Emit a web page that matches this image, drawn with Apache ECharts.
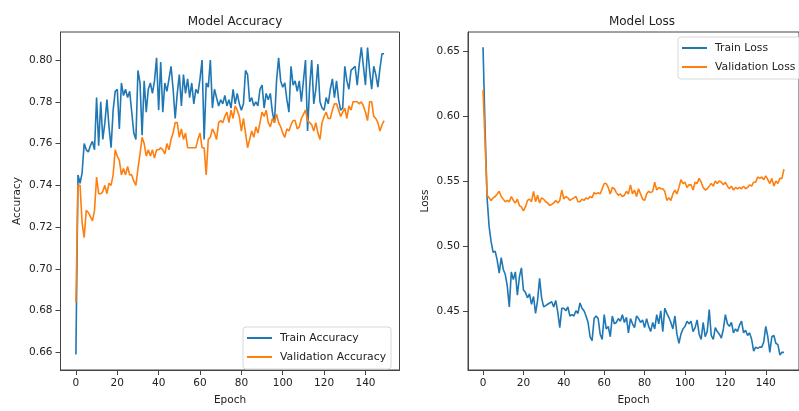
<!DOCTYPE html>
<html>
<head>
<meta charset="utf-8">
<script src="https://cdn.jsdelivr.net/npm/echarts@6/dist/echarts.min.js"></script>
<style>html,body{margin:0;padding:0;background:#fff;}#c{width:799px;height:411px;}</style>
</head>
<body>
<div id="c"></div>
<script>
var trainAcc = [0.659,0.745,0.741,0.746,0.760,0.757,0.756,0.759,0.761,0.757,
0.782,0.759,0.780,0.762,0.770,0.781,0.768,0.758,0.776,0.785,
0.786,0.767,0.789,0.783,0.786,0.782,0.785,0.775,0.765,0.762,
0.795,0.789,0.764,0.790,0.775,0.786,0.789,0.784,0.790,0.801,
0.776,0.799,0.775,0.789,0.785,0.791,0.797,0.786,0.772,0.784,
0.793,0.778,0.793,0.784,0.791,0.782,0.789,0.779,0.786,0.784,
0.791,0.800,0.762,0.789,0.787,0.800,0.777,0.786,0.782,0.778,
0.781,0.779,0.783,0.778,0.781,0.777,0.786,0.779,0.784,0.779,
0.776,0.779,0.795,0.793,0.780,0.782,0.778,0.780,0.778,0.786,
0.788,0.777,0.784,0.781,0.784,0.775,0.770,0.790,0.801,0.790,
0.787,0.789,0.781,0.775,0.797,0.788,0.790,0.785,0.790,0.780,
0.790,0.800,0.766,0.787,0.800,0.779,0.786,0.798,0.780,0.777,
0.776,0.782,0.779,0.786,0.791,0.782,0.790,0.781,0.776,0.777,
0.797,0.790,0.786,0.795,0.796,0.797,0.788,0.798,0.806,0.797,
0.788,0.806,0.795,0.786,0.797,0.793,0.787,0.796,0.803,0.803];
var valAcc = [0.684,0.740,0.740,0.722,0.715,0.728,0.727,0.725,0.723,0.728,
0.744,0.736,0.736,0.737,0.740,0.736,0.741,0.740,0.745,0.757,
0.754,0.752,0.745,0.748,0.745,0.749,0.745,0.745,0.742,0.740,
0.748,0.755,0.763,0.760,0.754,0.757,0.754,0.757,0.753,0.757,
0.757,0.758,0.757,0.755,0.760,0.757,0.762,0.765,0.770,0.770,
0.763,0.767,0.762,0.765,0.758,0.758,0.758,0.758,0.758,0.762,
0.765,0.758,0.758,0.745,0.762,0.763,0.767,0.765,0.762,0.770,
0.771,0.770,0.773,0.775,0.770,0.776,0.772,0.778,0.776,0.773,
0.766,0.772,0.765,0.758,0.762,0.766,0.763,0.768,0.765,0.770,
0.775,0.773,0.776,0.770,0.768,0.772,0.770,0.774,0.770,0.768,
0.765,0.763,0.767,0.766,0.769,0.771,0.771,0.767,0.768,0.772,
0.774,0.776,0.771,0.770,0.769,0.766,0.770,0.765,0.762,0.770,
0.773,0.775,0.772,0.772,0.776,0.779,0.779,0.776,0.773,0.775,
0.777,0.772,0.778,0.776,0.780,0.780,0.780,0.779,0.780,0.778,
0.775,0.771,0.780,0.780,0.773,0.772,0.770,0.766,0.769,0.771];
var trainLoss = [0.653,0.590,0.537,0.515,0.503,0.495,0.496,0.489,0.479,0.491,
0.482,0.478,0.469,0.453,0.480,0.474,0.480,0.462,0.476,0.483,
0.466,0.464,0.460,0.463,0.455,0.461,0.448,0.458,0.475,0.460,
0.453,0.454,0.455,0.456,0.457,0.453,0.458,0.449,0.437,0.452,
0.452,0.450,0.453,0.446,0.447,0.446,0.450,0.448,0.456,0.452,
0.450,0.446,0.441,0.430,0.427,0.444,0.446,0.444,0.432,0.428,
0.447,0.436,0.438,0.430,0.446,0.440,0.441,0.444,0.442,0.447,
0.441,0.445,0.433,0.444,0.440,0.437,0.446,0.444,0.441,0.443,
0.437,0.444,0.438,0.434,0.441,0.436,0.447,0.440,0.450,0.434,
0.452,0.448,0.445,0.441,0.436,0.446,0.432,0.425,0.432,0.436,
0.438,0.442,0.440,0.442,0.434,0.437,0.443,0.432,0.428,0.441,
0.430,0.434,0.451,0.431,0.428,0.437,0.434,0.432,0.429,0.436,
0.447,0.440,0.438,0.441,0.433,0.436,0.434,0.439,0.442,0.433,
0.435,0.431,0.433,0.428,0.419,0.422,0.421,0.422,0.422,0.426,
0.438,0.430,0.418,0.430,0.431,0.425,0.424,0.416,0.418,0.418];
var valLoss = [0.620,0.580,0.539,0.537,0.535,0.537,0.538,0.540,0.542,0.538,
0.536,0.534,0.535,0.534,0.538,0.535,0.533,0.536,0.531,0.530,
0.527,0.530,0.535,0.536,0.534,0.542,0.534,0.539,0.533,0.537,
0.536,0.534,0.533,0.531,0.532,0.533,0.535,0.533,0.535,0.543,
0.536,0.538,0.537,0.535,0.536,0.537,0.538,0.534,0.534,0.536,
0.535,0.537,0.536,0.538,0.537,0.541,0.540,0.541,0.540,0.544,
0.548,0.548,0.545,0.540,0.545,0.544,0.541,0.539,0.540,0.538,
0.539,0.542,0.540,0.547,0.540,0.543,0.538,0.544,0.540,0.536,
0.535,0.540,0.542,0.541,0.542,0.549,0.543,0.545,0.544,0.544,
0.542,0.535,0.537,0.535,0.540,0.543,0.540,0.545,0.551,0.548,
0.549,0.545,0.547,0.547,0.543,0.549,0.548,0.552,0.549,0.545,
0.543,0.544,0.546,0.548,0.546,0.550,0.548,0.550,0.549,0.547,
0.549,0.546,0.544,0.546,0.543,0.545,0.544,0.545,0.544,0.546,
0.544,0.545,0.547,0.546,0.549,0.549,0.553,0.552,0.553,0.551,
0.554,0.551,0.548,0.552,0.546,0.550,0.548,0.552,0.552,0.559];
var xTicks = [0,20,40,60,80,100,120,140];
var accTicks = [0.66,0.68,0.70,0.72,0.74,0.76,0.78,0.80];
var lossTicks = [0.45,0.50,0.55,0.60,0.65];

function pairs(arr){ return arr.map(function(v,i){ return [i, v]; }); }

var FONT = 'DejaVu Sans';
var BLUE = '#1f77b4', ORANGE = '#ff7f0e';
var chart = echarts.init(document.getElementById('c'), null, {renderer:'canvas'});

function xAx(idx){
  return {
    type:'value', gridIndex: idx, min:-7.45, max:156.45,
    name:'Epoch', nameLocation:'middle', nameGap:25,
    nameTextStyle:{fontFamily:FONT, fontSize:10.5, color:'#222'},
    axisLine:{show:true, onZero:false, lineStyle:{color:'#444', width:1}},
    axisTick:{show:true, inside:false, length:5, lineStyle:{color:'#444'}, customValues:xTicks},
    axisLabel:{fontFamily:FONT, fontSize:10.5, color:'#222', margin:8, customValues:xTicks},
    splitLine:{show:false}
  };
}
function yAx(idx, mn, mx, ticks, name, gap){
  return {
    type:'value', gridIndex: idx, min:mn, max:mx,
    name:name, nameLocation:'middle', nameGap:gap, nameRotate:90,
    nameTextStyle:{fontFamily:FONT, fontSize:10.5, color:'#222'},
    axisLine:{show:true, onZero:false, lineStyle:{color:'#444', width:1}},
    axisTick:{show:true, inside:false, length:5, lineStyle:{color:'#444'}, customValues:ticks},
    axisLabel:{fontFamily:FONT, fontSize:10.5, color:'#222', margin:8, customValues:ticks,
      formatter:function(v){ return v.toFixed(2); }},
    splitLine:{show:false}
  };
}
function legendBox(left, top, names){
  return {
    orient:'vertical', left:left, top:top, data:names,
    icon:'rect', itemWidth:25, itemHeight:2, itemGap:5,
    padding:[4,5,5,4],
    backgroundColor:'rgba(255,255,255,0.8)', borderColor:'#d8d8d8', borderWidth:1, borderRadius:3,
    textStyle:{fontFamily:FONT, fontSize:10.8, color:'#222', lineHeight:14, padding:[0,0,0,3]},
    selectedMode:false
  };
}

chart.setOption({
  animation:false,
  backgroundColor:'#fff',
  title:[
    {text:'Model Accuracy', left:230, top:11, textAlign:'center',
     textStyle:{fontFamily:FONT, fontSize:12, fontWeight:'normal', color:'#222'}},
    {text:'Model Loss', left:637, top:11, textAlign:'center',
     textStyle:{fontFamily:FONT, fontSize:12, fontWeight:'normal', color:'#222'}}
  ],
  grid:[
    {left:60.5, top:32, width:339, height:341.5, show:true, borderColor:'#444', borderWidth:1, backgroundColor:'transparent'},
    {left:468, top:32, width:339, height:341.5, show:true, borderColor:'#444', borderWidth:1, backgroundColor:'transparent'}
  ],
  xAxis:[xAx(0), xAx(1)],
  yAxis:[
    yAx(0, 0.6516, 0.8134, accTicks, 'Accuracy', 38),
    yAx(1, 0.4044, 0.6647, lossTicks, 'Loss', 37)
  ],
  legend:[
    legendBox(243, 327, ['Train Accuracy','Validation Accuracy']),
    legendBox(678, 37, ['Train Loss','Validation Loss'])
  ],
  series:[
    {name:'Train Accuracy', type:'line', xAxisIndex:0, yAxisIndex:0, data:pairs(trainAcc),
     showSymbol:false, lineStyle:{color:BLUE, width:1.6}, itemStyle:{color:BLUE}},
    {name:'Validation Accuracy', type:'line', xAxisIndex:0, yAxisIndex:0, data:pairs(valAcc),
     showSymbol:false, lineStyle:{color:ORANGE, width:1.6}, itemStyle:{color:ORANGE}},
    {name:'Train Loss', type:'line', xAxisIndex:1, yAxisIndex:1, data:pairs(trainLoss),
     showSymbol:false, lineStyle:{color:BLUE, width:1.6}, itemStyle:{color:BLUE}},
    {name:'Validation Loss', type:'line', xAxisIndex:1, yAxisIndex:1, data:pairs(valLoss),
     showSymbol:false, lineStyle:{color:ORANGE, width:1.6}, itemStyle:{color:ORANGE}}
  ]
});
</script>
</body>
</html>
